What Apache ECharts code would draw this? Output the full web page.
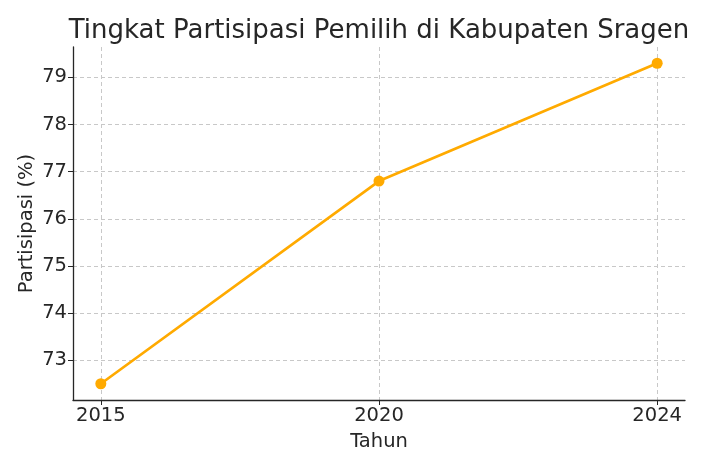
<!DOCTYPE html>
<html>
<head>
<meta charset="utf-8">
<script src="https://cdn.jsdelivr.net/npm/echarts@6/dist/echarts.min.js"></script>
<style>
  html, body { margin: 0; padding: 0; background: #fff; }
  #chart { width: 702px; height: 468px; }
</style>
</head>
<body>
<div id="chart"></div>
<script>
// data
var years = ['2015', '2020', '2024'];
var partisipasi = [72.5, 76.8, 79.3];
var yTicks = [73, 74, 75, 76, 77, 78, 79];

var font = 'DejaVu Sans';
var lineColor = '#FFAA00';

var points = [];
for (var i = 0; i < years.length; i++) {
  points.push([i, partisipasi[i]]);
}
var xTicks = years.map(function (y, i) { return i; });

var chart = echarts.init(document.getElementById('chart'));
chart.setOption({
  animation: false,
  backgroundColor: '#fff',
  title: {
    text: 'Tingkat Partisipasi Pemilih di Kabupaten Sragen',
    left: 374,
    textAlign: 'center',
    top: 13,
    textStyle: { fontFamily: font, fontSize: 26, fontWeight: 'normal', color: '#262626' }
  },
  grid: { left: 73, right: 17, top: 47, bottom: 68, containLabel: false },
  xAxis: {
    type: 'value',
    min: -0.1,
    max: 2.1,
    name: 'Tahun',
    nameLocation: 'middle',
    nameGap: 32,
    nameTextStyle: { fontFamily: font, fontSize: 19.5, color: '#262626' },
    axisLine: { show: true, onZero: false, lineStyle: { color: '#262626', width: 1.3 } },
    axisTick: { show: true, customValues: xTicks, length: 5, lineStyle: { color: '#262626' } },
    axisLabel: {
      customValues: xTicks,
      margin: 6,
      fontFamily: font, fontSize: 19.5, color: '#262626',
      formatter: function (v) { return years[Math.round(v)]; }
    },
    splitLine: { show: true, customValues: xTicks, lineStyle: { color: '#c8c8c8', type: [4, 3], width: 1 } }
  },
  yAxis: {
    type: 'value',
    min: 72.155,
    max: 79.645,
    name: 'Partisipasi (%)',
    nameLocation: 'middle',
    nameGap: 36,
    nameMoveOverlap: false,
    nameTextStyle: { fontFamily: font, fontSize: 19.5, color: '#262626' },
    axisLine: { show: true, onZero: false, lineStyle: { color: '#262626', width: 1.3 } },
    axisTick: { show: true, customValues: yTicks, length: 5, lineStyle: { color: '#262626' } },
    axisLabel: { customValues: yTicks, margin: 6, fontFamily: font, fontSize: 19.5, color: '#262626' },
    splitLine: { show: true, customValues: yTicks, lineStyle: { color: '#c8c8c8', type: [4, 3], width: 1 } }
  },
  series: [{
    type: 'line',
    data: points,
    symbol: 'circle',
    symbolSize: 11,
    itemStyle: { color: lineColor },
    lineStyle: { color: lineColor, width: 2.7 }
  }]
});
</script>
</body>
</html>
